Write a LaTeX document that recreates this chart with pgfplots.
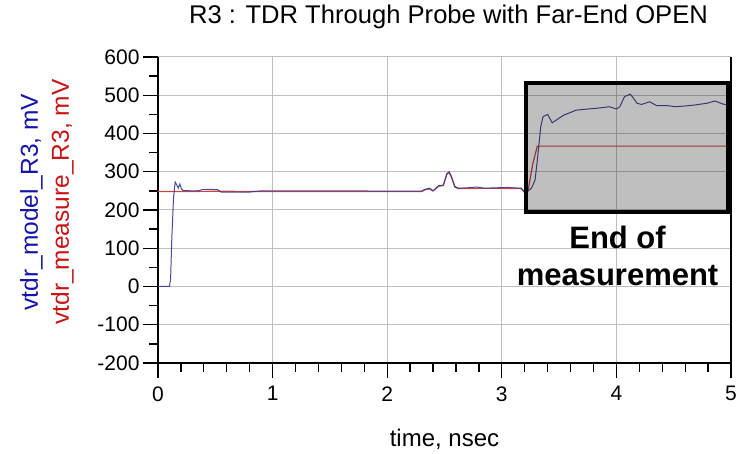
\documentclass[border=0pt]{standalone}
\usepackage{pgfplots}
\pgfplotsset{compat=1.18}
\usepackage{fontspec}
\setmainfont{Liberation Sans}
\definecolor{modelc}{RGB}{55,55,140}
\definecolor{measc}{RGB}{205,70,70}
\definecolor{lblblue}{RGB}{20,20,170}
\definecolor{lblred}{RGB}{200,20,20}
\begin{document}
\begin{tikzpicture}
\begin{axis}[
  name=ax,
  scale only axis,
  width=573pt, height=306pt,
  xmin=0, xmax=5, ymin=-200, ymax=600,
  xtick={0,1,2,3,4,5},
  ytick={-200,-100,0,100,200,300,400,500,600},
  minor x tick num=4,
  minor y tick num=1,
  axis x line*=bottom, axis y line*=left,
  axis line style={black, line width=1.3pt, -},
  tick align=outside,
  major tick length=15pt, minor tick length=9pt,
  every tick/.style={black, line width=1.3pt},
  grid=major,
  major grid style={black!25, line width=1pt},
  /pgf/number format/assume math mode=true,
  tick label style={font=\fontsize{21}{24}\selectfont},
  xticklabel style={yshift=-5pt},
  clip=false,
  title={R3 : TDR Through Probe with Far-End OPEN},
  title style={font=\fontsize{25.6}{28}\selectfont, at={(0.5,1)}, anchor=base, yshift=27pt, xshift=4pt},
  xlabel={time, nsec},
  xlabel style={font=\fontsize{24}{28}\selectfont, at={(0.5,0)}, anchor=base, yshift=-84pt},
  ylabel={\textcolor{lblblue}{vtdr\_model\_R3, mV}\\\textcolor{lblred}{vtdr\_measure\_R3, mV}},
  ylabel style={font=\fontsize{24.5}{31}\selectfont, align=center, inner sep=0pt,
    at={([xshift=-84pt]axis description cs:0,0.526)}, anchor=south, rotate=0},
]
\addplot[measc, line width=1.2pt] coordinates {
(0,248.5) (0.3,248.5) (0.55,249) (1.0,248) (2.3,248) (2.33,253) (2.37,255) (2.40,250)
(2.45,262) (2.49,264) (2.52,293) (2.54,298) (2.56,286) (2.59,260) (2.62,256)
(2.8,256.5) (3.0,256.5) (3.17,256) (3.20,245) (3.23,252) (3.27,320) (3.31,367) (5.0,367)
};
\addplot[modelc, line width=1pt, opacity=0.9] coordinates {
(0,0) (0.1,0) (0.11,20) (0.12,120) (0.135,230) (0.15,273) (0.165,265) (0.177,257)
(0.19,268) (0.205,255) (0.22,251) (0.26,250.5) (0.3,250) (0.36,250.5) (0.38,253) (0.45,254)
(0.52,253) (0.55,247) (0.7,247) (0.8,247) (0.9,250) (1.0,250) (1.5,250) (2.0,249.5) (2.3,249.5)
(2.33,254) (2.37,257) (2.40,250) (2.45,264) (2.49,265) (2.52,295) (2.54,300) (2.56,288)
(2.59,262) (2.62,257) (2.7,258) (2.78,260) (2.85,257) (2.95,258) (3.05,259) (3.1,258)
(3.17,257) (3.21,244) (3.26,258) (3.29,278) (3.31,330) (3.34,418) (3.36,444) (3.40,450)
(3.44,428) (3.5,440) (3.54,448) (3.65,461) (3.75,464) (3.83,466) (3.94,470) (4.0,464)
(4.03,470) (4.07,496) (4.12,503) (4.15,492) (4.18,479) (4.22,476) (4.29,483) (4.35,473)
(4.44,473) (4.52,470) (4.6,472) (4.67,474) (4.79,479) (4.86,485) (4.93,477) (4.98,474) (5.0,474)
};
\fill[black, fill opacity=0.25] (axis cs:3.21,195) rectangle (axis cs:4.975,532);
\draw[black, line width=3.5pt] (axis cs:3.21,195) rectangle (axis cs:4.975,532);
\draw[black, line width=1.3pt] (rel axis cs:1,0) -- (rel axis cs:1,1);
\node[font=\bfseries\fontsize{31}{37}\selectfont, align=center, inner sep=0pt] at (axis cs:4.01,80) {End of\\measurement};
\end{axis}
\pgfresetboundingbox
\path[use as bounding box] ([shift={(-158pt,-91pt)}]ax.south west) rectangle ([shift={(11pt,57pt)}]ax.north east);
\end{tikzpicture}
\end{document}
